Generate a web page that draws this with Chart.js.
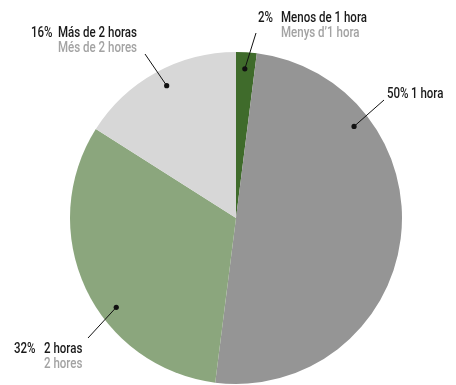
<!DOCTYPE html>
<html>
<head>
<meta charset="utf-8">
<script src="https://cdn.jsdelivr.net/npm/chart.js@4/dist/chart.umd.min.js"></script>
<style>
  html, body { margin: 0; padding: 0; background: #fff; }
  #wrap { width: 456px; height: 385px; position: relative; }
</style>
</head>
<body>
<div id="wrap"><canvas id="pie"></canvas></div>
<script>
// 数据
const percents = [2, 50, 32, 16];
const labelsEs = ['Menos de 1 hora', '1 hora', '2 horas', 'Más de 2 horas'];
const labelsCa = ['Menys d\u20191 hora', '', '2 hores', 'Més de 2 hores'];
const sliceColors = ['#3f6b2b', '#959595', '#8ba67d', '#d7d7d7'];

// 引线终点在扇区内的位置 (扇区内角度比例)
const dotFrac = [0.47, 0.25, 0.40, 0.52];

// 标签布局: 百分比 x, 名称 x, 第一行基线, 引线起点
const labelLayout = [
    { px: 258, nx: 281, y: 22, lx: 256, ly: 33 },
    { px: 387, nx: 411, y: 98, lx: 384, ly: 100 },
    { px: 14, nx: 44, y: 353, lx: 88, ly: 338 },
    { px: 31, nx: 58, y: 37, lx: 145, ly: 54 }
];

const FONT = '500 14.5px Roboto, "Noto Sans", sans-serif';

/**
 * 画压缩字体 (模拟窄体)
 */
function narrowText(ctx, text, x, y, k) {
    ctx.save();
    ctx.translate(x, y);
    ctx.scale(k, 1);
    ctx.fillText(text, 0, 0);
    ctx.restore();
}

/**
 * 绘制引线和标签
 */
const calloutPlugin = {
    id: 'callouts',
    afterDatasetsDraw(chart) {
        const ctx = chart.ctx;
        const arcs = chart.getDatasetMeta(0).data;
        ctx.save();
        ctx.font = FONT;
        // 参考图中 "Más de 2 horas" 宽约 79px
        const k = 79 / ctx.measureText('Más de 2 horas').width;
        arcs.forEach((arc, i) => {
            const a = arc.startAngle + dotFrac[i] * (arc.endAngle - arc.startAngle);
            const r = arc.outerRadius * 0.9;
            const dx = arc.x + Math.cos(a) * r;
            const dy = arc.y + Math.sin(a) * r;
            const L = labelLayout[i];

            ctx.strokeStyle = '#111';
            ctx.lineWidth = 1;
            ctx.beginPath();
            ctx.moveTo(L.lx, L.ly);
            ctx.lineTo(dx, dy);
            ctx.stroke();

            ctx.fillStyle = '#111';
            ctx.beginPath();
            ctx.arc(dx, dy, 2.6, 0, Math.PI * 2);
            ctx.fill();

            ctx.textBaseline = 'alphabetic';
            ctx.textAlign = 'left';
            ctx.fillStyle = '#1a1a1a';
            narrowText(ctx, percents[i] + '%', L.px, L.y, k);
            narrowText(ctx, labelsEs[i], L.nx, L.y, k);
            if (labelsCa[i]) {
                ctx.fillStyle = '#a3a3a3';
                narrowText(ctx, labelsCa[i], L.nx, L.y + 15, k);
            }
        });
        ctx.restore();
    }
};

const chart = new Chart(document.getElementById('pie'), {
    type: 'pie',
    data: {
        labels: labelsEs,
        datasets: [{
            data: percents,
            backgroundColor: sliceColors,
            borderWidth: 0
        }]
    },
    options: {
        responsive: true,
        maintainAspectRatio: false,
        animation: false,
        layout: {
            padding: { top: 52, bottom: 1, left: 70, right: 54 }
        },
        plugins: {
            legend: { display: false },
            tooltip: { enabled: false }
        }
    },
    plugins: [calloutPlugin]
});
</script>
</body>
</html>
